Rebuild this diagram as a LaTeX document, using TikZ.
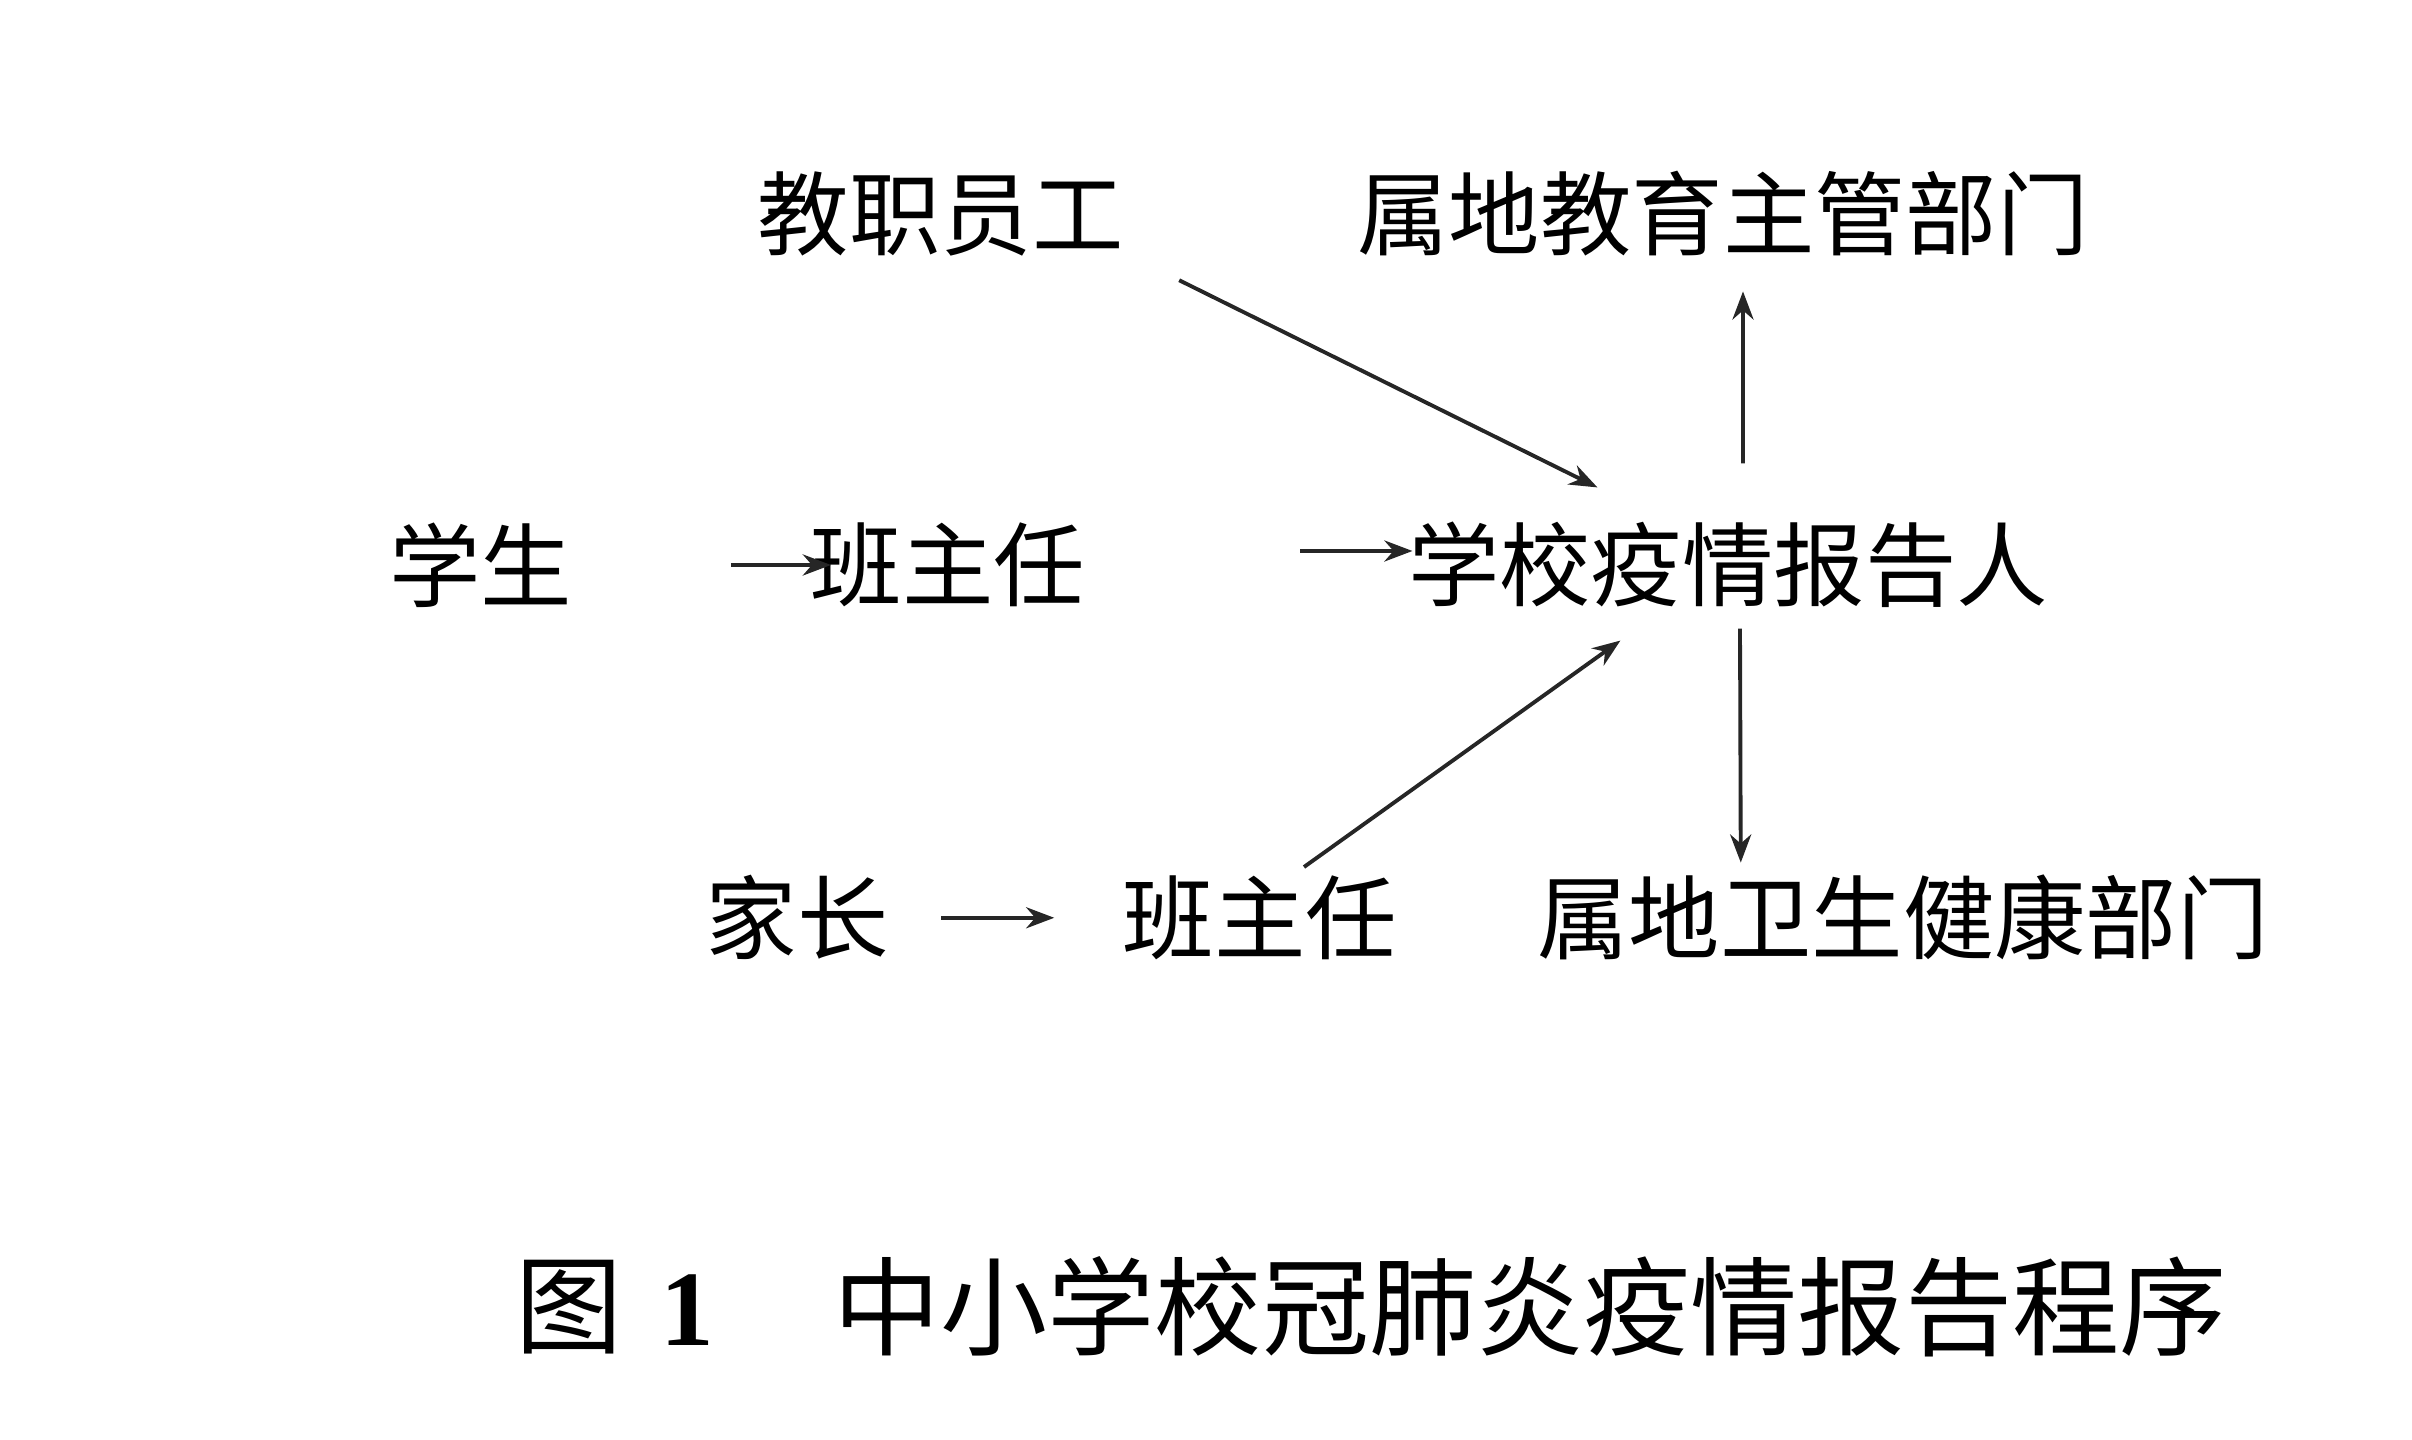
\documentclass[tikz,border=0pt]{standalone}
\usepackage{fontspec}
\setmainfont{Noto Sans CJK SC}
\newfontfamily\numfont{Liberation Serif}
\usepackage{tikz}
\usetikzlibrary{arrows.meta, positioning}

\begin{document}
\begin{tikzpicture}[
            role/.style={inner sep=0pt, font=\fontsize{26}{26}\selectfont},
            figcap/.style={inner sep=0pt, font=\fontsize{30.5}{30.5}\selectfont},
            arrow/.style={-{Stealth[length=8pt, width=6pt]}, line width=1.1pt, color=black!85}
        ]
            \useasboundingbox (0,0) rectangle (24.12,14.40);

            % Nodes
            \node[role] (reporter) at (17.28,8.75) {学校疫情报告人};
            \node[role, left=3.22cm of reporter] (teacherA) {班主任};
            \node[role, left=2.37cm of teacherA] (student) {学生};
            \node[role, above=2.65cm of teacherA, xshift=-0.07cm] (staff) {教职员工};
            \node[role, above=2.65cm of reporter, xshift=-0.05cm] (edu) {属地教育主管部门};
            \node[role, below=2.66cm of reporter, xshift=1.75cm] (health) {属地卫生健康部门};
            \node[role, left=1.39cm of health] (teacherB) {班主任};
            \node[role, left=2.33cm of teacherB] (parent) {家长};

            \node[figcap] (figno) at (6.15,1.33) {图\hspace{0.35em}{\numfont\bfseries 1}};
            \node[figcap] (figtitle) at (15.30,1.33) {中小学校冠肺炎疫情报告程序};

            % Arrows
            \draw[arrow] ([xshift=1.58cm]student.east) -- ([xshift=0.21cm]teacherA.west);
            \draw[arrow] ([shift={(2.15,0.14)}]teacherA.east) -- ([shift={(0.05,0.14)}]reporter.west);
            \draw[arrow] ([shift={(0.55,-0.23)}]staff.south east) -- ([shift={(1.90,0.34)}]reporter.north west);
            \draw[arrow] ([shift={(0.15,0.58)}]reporter.north) -- ([shift={(0.20,-0.35)}]edu.south);
            \draw[arrow] ([shift={(0.12,-0.20)}]reporter.south) -- ([shift={(2.04,0.12)}]health.north west);
            \draw[arrow] ([xshift=0.52cm]parent.east) -- ([xshift=-0.68cm]teacherB.west);
            \draw[arrow] ([shift={(0.44,0.08)}]teacherB.north) -- ([shift={(2.13,-0.32)}]reporter.south west);
        \end{tikzpicture}
\end{document}
